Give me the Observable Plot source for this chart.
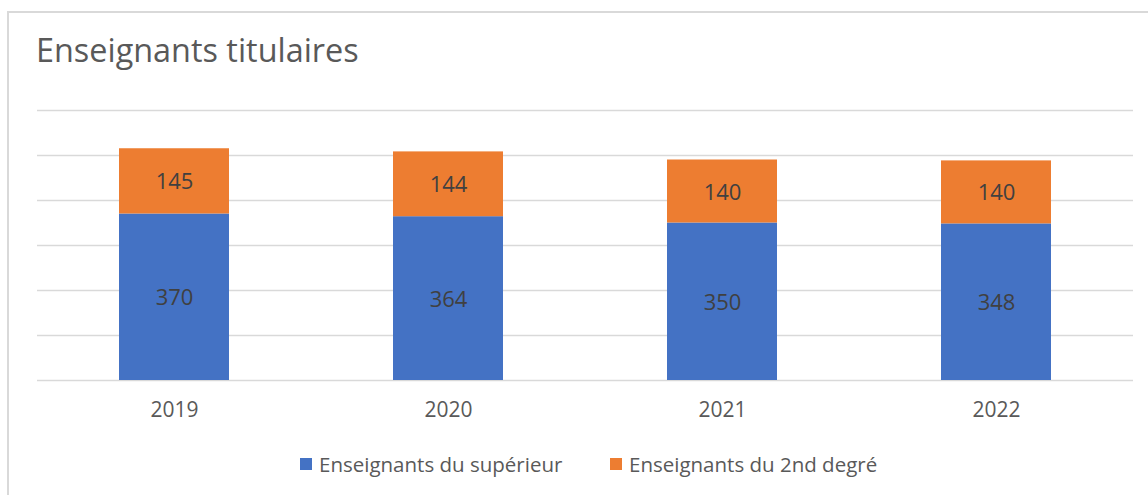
<!DOCTYPE html>
<html>
<head>
<meta charset="utf-8">
<script src="https://cdn.jsdelivr.net/npm/d3@7"></script>
<script src="https://cdn.jsdelivr.net/npm/@observablehq/plot@0.6"></script>
<style>
  html, body { margin: 0; padding: 0; background: #fff; overflow: hidden; }
  #wrap { position: relative; width: 1148px; height: 495px; font-family: "Open Sans", sans-serif; }
  #frame { position: absolute; left: 7px; top: 11px; width: 1200px; height: 600px; border: 2px solid #d9d9d9; box-sizing: border-box; }
  #title { position: absolute; left: 36px; top: 29px; font-size: 32.4px; line-height: 40px; color: #595959; white-space: nowrap; }
  #chart { position: absolute; left: 0; top: 0; }
  .leg { position: absolute; top: 452px; height: 24px; display: flex; align-items: center; font-size: 20.5px; color: #595959; white-space: nowrap; }
  .sw { width: 12px; height: 12px; margin-right: 7px; }
</style>
</head>
<body>
<div id="wrap">
  <div id="frame"></div>
  <div id="chart"></div>
  <div id="title"></div>
  <div id="legend"></div>
</div>
<script>
const title = "Enseignants titulaires";
const years = ["2019", "2020", "2021", "2022"];
const seriesNames = ["Enseignants du supérieur", "Enseignants du 2nd degré"];
const superieur = [370, 364, 350, 348];
const secondDegre = [145, 144, 140, 140];
const colors = ["#4472C4", "#ED7D31"];
const gridTicks = [0, 100, 200, 300, 400, 500, 600];

const data = [];
years.forEach((y, i) => data.push({year: y, series: seriesNames[0], value: superieur[i]}));
years.forEach((y, i) => data.push({year: y, series: seriesNames[1], value: secondDegre[i]}));

document.getElementById("title").textContent = title;

const plot = Plot.plot({
  width: 1148,
  height: 495,
  marginLeft: 37,
  marginRight: 15,
  marginTop: 110,
  marginBottom: 115,
  style: {fontFamily: "'Open Sans', sans-serif", background: "transparent", overflow: "visible"},
  x: {domain: years, paddingInner: 0.6, paddingOuter: 0.3, label: null},
  y: {domain: [0, 600], axis: null},
  color: {domain: seriesNames, range: colors},
  marks: [
    Plot.ruleY(gridTicks, {stroke: "#d9d9d9", strokeWidth: 1.5}),
    Plot.barY(data, Plot.stackY({x: "year", y: "value", z: "series", fill: "series", order: null})),
    Plot.text(data, Plot.stackY({x: "year", y: "value", z: "series", text: d => String(d.value), order: null, fill: "#404040", fontSize: 22, dy: 1})),
    Plot.axisX({tickSize: 0, tickPadding: 22, fontSize: 21, fill: "#595959", label: null})
  ]
});
document.getElementById("chart").appendChild(plot);

const legend = document.getElementById("legend");
const legLeft = [300, 610];
seriesNames.forEach((name, i) => {
  const item = document.createElement("div");
  item.className = "leg";
  item.style.left = legLeft[i] + "px";
  const sw = document.createElement("div");
  sw.className = "sw";
  sw.style.background = colors[i];
  const t = document.createElement("span");
  t.textContent = name;
  item.appendChild(sw);
  item.appendChild(t);
  legend.appendChild(item);
});
</script>
</body>
</html>
